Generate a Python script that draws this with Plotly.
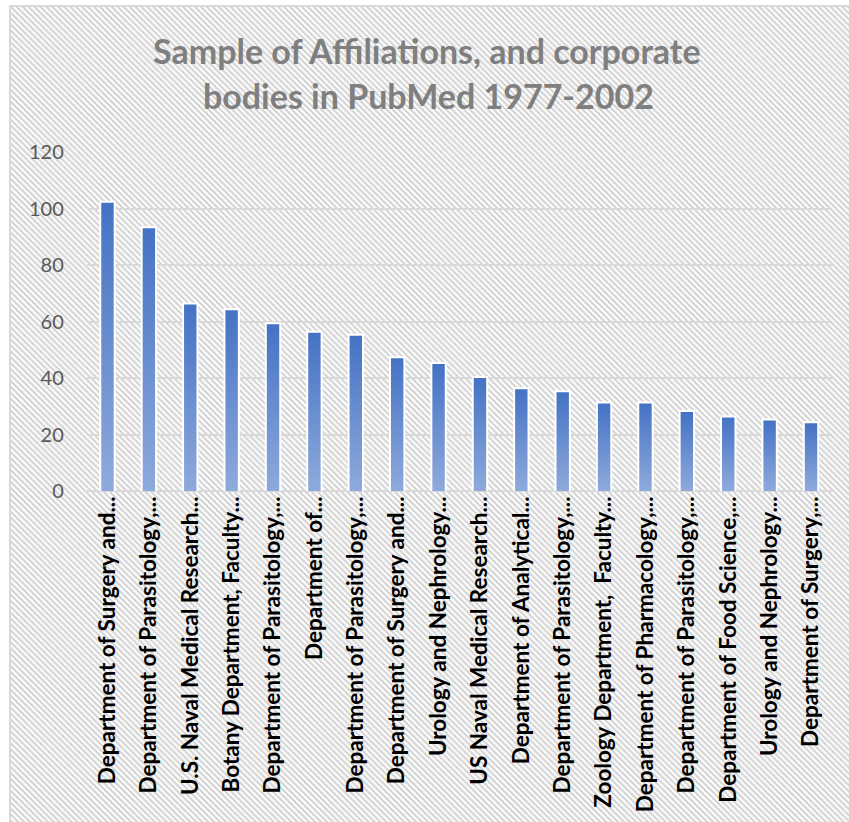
import plotly.graph_objects as go

# ---- data ----
labels = [
    "Department of Surgery and...",
    "Department of Parasitology,...",
    "U.S. Naval Medical Research...",
    "Botany Department, Faculty...",
    "Department of Parasitology,...",
    "Department of...",
    "Department of Parasitology,...",
    "Department of Surgery and...",
    "Urology and Nephrology...",
    "US Naval Medical Research...",
    "Department of Analytical...",
    "Department of Parasitology,...",
    "Zoology Department,  Faculty...",
    "Department of Pharmacology,...",
    "Department of Parasitology,...",
    "Department of Food Science,...",
    "Urology and Nephrology...",
    "Department of Surgery,...",
]
counts = [102, 93, 66, 64, 59, 56, 55, 47, 45, 40, 36, 35, 31, 31, 28, 26, 25, 24]
y_ticks = [0, 20, 40, 60, 80, 100, 120]
title_lines = ["Sample of Affiliations, and corporate", "bodies in PubMed 1977-2002"]

positions = list(range(len(labels)))

W, H = 849, 822
BAR_W = 0.3
DARK = "#4472C4"
LIGHT = "#8FAADC"
FONT = "Lato"

fig = go.Figure()

# hatched chart-area background (decorative), on its own full-size subplot
fig.add_trace(go.Bar(
    x=[0.5], y=[1], width=[1], xaxis="x", yaxis="y",
    marker=dict(color="white",
                line=dict(width=0),
                pattern=dict(shape="\\", fgcolor="#D3D3D3", bgcolor="white",
                             size=4.2, solidity=0.5)),
    hoverinfo="skip", showlegend=False,
))

# white-outlined bars
fig.add_trace(go.Bar(
    x=positions, y=counts, width=BAR_W, xaxis="x2", yaxis="y2",
    marker=dict(color=DARK, line=dict(color="white", width=4)),
    hoverinfo="skip", showlegend=False,
))

# gradient fill for each bar (dark at top, light at bottom)
for xi, v in zip(positions, counts):
    x0, x1 = xi - BAR_W / 2, xi + BAR_W / 2
    fig.add_trace(go.Scatter(
        x=[x0, x1, x1, x0, x0], y=[0, 0, v, v, 0],
        xaxis="x2", yaxis="y2", mode="lines", line=dict(width=0),
        fill="toself",
        fillgradient=dict(type="vertical",
                          colorscale=[[0, LIGHT], [1, DARK]]),
        hoverinfo="skip", showlegend=False,
    ))

x_lo, x_hi = 86.8 / W, 831.7 / W
y_lo, y_hi = 1 - 491 / H, 1 - 152 / H

fig.update_layout(
    width=W, height=H,
    template="none",
    margin=dict(l=0, r=0, t=0, b=0, autoexpand=False),
    paper_bgcolor="white",
    plot_bgcolor="rgba(0,0,0,0)",
    showlegend=False,
    xaxis=dict(domain=[11 / W, 1], range=[0, 1], showgrid=False, zeroline=False,
               showticklabels=False, ticks="", showline=True, side="top",
               linecolor="#D9D9D9", linewidth=2, fixedrange=True),
    yaxis=dict(domain=[0, 1 - 7 / H], range=[0, 1], showgrid=False, zeroline=False,
               showticklabels=False, ticks="", showline=True, side="left",
               linecolor="#D9D9D9", linewidth=2, fixedrange=True),
    xaxis2=dict(domain=[x_lo, x_hi], anchor="y2",
                range=[-0.5, len(labels) - 0.5],
                tickmode="array", tickvals=positions, ticktext=labels,
                tickangle=-90, ticks="", showgrid=False, zeroline=False,
                showline=False, automargin=False,
                tickfont=dict(family=FONT, size=22.5, color="#000000", weight="bold")),
    yaxis2=dict(domain=[y_lo, y_hi], anchor="x2",
                range=[0, 120], tickmode="array", tickvals=y_ticks,
                showgrid=True, gridcolor="#D9D9D9", gridwidth=1.5,
                zeroline=True, zerolinecolor="#D9D9D9", zerolinewidth=1.5,
                showline=False, ticks="", ticklabelstandoff=22, automargin=False,
                tickfont=dict(family=FONT, size=20, color="#595959")),
    annotations=[
        dict(text=f"<b>{title_lines[0]}</b>", x=426.5 / W, y=1 - 51 / H,
             xref="paper", yref="paper", xanchor="center", yanchor="middle",
             showarrow=False, font=dict(family=FONT, size=34, color="#7F7F7F")),
        dict(text=f"<b>{title_lines[1]}</b>", x=428.5 / W, y=1 - 96 / H,
             xref="paper", yref="paper", xanchor="center", yanchor="middle",
             showarrow=False, font=dict(family=FONT, size=34, color="#7F7F7F")),
    ],
)

fig.write_html("out.html")
